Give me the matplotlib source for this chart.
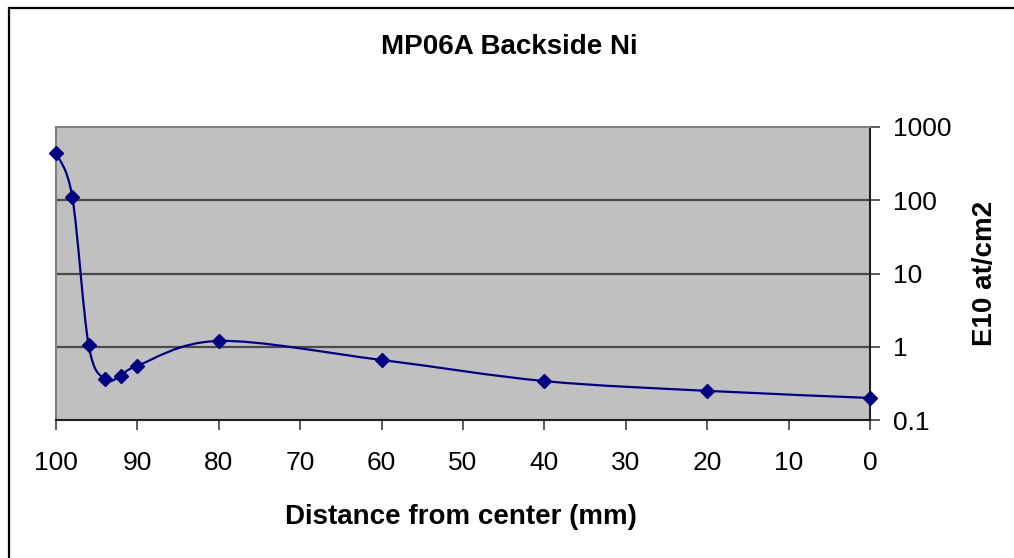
import numpy as np
import matplotlib
matplotlib.use("Agg")
import matplotlib.pyplot as plt
from matplotlib.path import Path
from matplotlib.patches import PathPatch, Rectangle

plt.rcParams['font.family'] = ['Liberation Sans', 'DejaVu Sans']

# Ni on the back side vs. distance from wafer center
dist = [100, 98, 96, 94, 92, 90, 80, 60, 40, 20, 0]
ni = [440, 111, 1.07, 0.36, 0.40, 0.55, 1.2, 0.66, 0.34, 0.25, 0.20]
xticks = [100, 90, 80, 70, 60, 50, 40, 30, 20, 10, 0]
yticks = [0.1, 1, 10, 100, 1000]
ytick_labels = ['0.1', '1', '10', '100', '1000']

W, H = 1014, 558
fig = plt.figure(figsize=(W / 100, H / 100), dpi=100)
ax = fig.add_axes([56 / W, 1 - 420 / H, (870 - 56) / W, (420 - 127) / H])
ax.set_facecolor('#C0C0C0')
ax.set_yscale('log')
ax.set_xlim(100, 0)
ax.set_ylim(0.1, 1000)

# smoothed line: Bezier segments built in (x, log y) space, like a spreadsheet "smoothed line"
px = np.array(dist, dtype=float)
py = np.log10(ni)
n = len(px)
verts = [(px[0], ni[0])]
codes = [Path.MOVETO]
for i in range(n - 1):
    a = max(i - 1, 0)
    b = min(i + 2, n - 1)
    c1x = px[i] + (px[i + 1] - px[a]) / 6
    c1y = py[i] + (py[i + 1] - py[a]) / 6
    c2x = px[i + 1] - (px[b] - px[i]) / 6
    c2y = py[i + 1] - (py[b] - py[i]) / 6
    verts += [(c1x, 10 ** c1y), (c2x, 10 ** c2y), (px[i + 1], ni[i + 1])]
    codes += [Path.CURVE4] * 3
ax.add_patch(PathPatch(Path(verts, codes), facecolor='none', edgecolor='#000080',
                       lw=1.6, zorder=3))
ax.plot(dist, ni, linestyle='none', marker='D', ms=7, color='#000080', zorder=4,
        clip_on=False)

for v in [1, 10, 100]:
    ax.axhline(v, color='#4a4a4a', lw=1.6, zorder=1)

ax.set_xticks(xticks)
ax.set_xticklabels([str(t) for t in xticks])
ax.set_yticks(yticks)
ax.set_yticklabels(ytick_labels)
ax.minorticks_off()
ax.yaxis.tick_right()
ax.tick_params(axis='x', direction='out', length=7.5, width=1.2, color='#404040',
               labelsize=19, pad=15)
ax.tick_params(axis='y', direction='out', length=7.5, width=1.2, color='#404040',
               labelsize=19, pad=9)

ax.spines['left'].set_color('#808080')
ax.spines['top'].set_color('#808080')
ax.spines['bottom'].set_color('#202020')
ax.spines['right'].set_color('#202020')
for s in ax.spines.values():
    s.set_linewidth(1.5)

fig.text(509 / W, 1 - 47 / H, 'MP06A Backside Ni', ha='center', va='center',
         fontsize=20, fontweight='bold')
fig.text(461 / W, 1 - 517 / H, 'Distance from center (mm)', ha='center', va='center',
         fontsize=20, fontweight='bold')
fig.text(985 / W, 1 - 273 / H, 'E10 at/cm2', ha='center', va='center',
         rotation=90, fontsize=20, fontweight='bold')

# outer chart border
fig.patches.append(Rectangle((9 / W, -0.05), 1.1, 1 - 7.5 / H + 0.05,
                             transform=fig.transFigure, fill=False,
                             edgecolor='black', lw=1.6))

fig.savefig('out.png', dpi=100)
